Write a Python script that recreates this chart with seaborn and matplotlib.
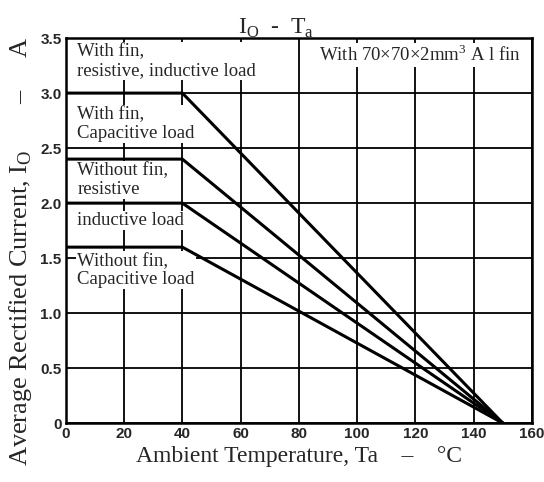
import pandas as pd
import seaborn as sns
import matplotlib.pyplot as plt

# derating curves: flat up to 40 C, then down to zero at 150 C
temps = [0, 40, 150]
fin_resistive = [3.0, 3.0, 0.0]
fin_capacitive = [2.4, 2.4, 0.0]
nofin_resistive = [2.0, 2.0, 0.0]
nofin_capacitive = [1.6, 1.6, 0.0]

series = {
    "fin_res": fin_resistive,
    "fin_cap": fin_capacitive,
    "nofin_res": nofin_resistive,
    "nofin_cap": nofin_capacitive,
}

rows = []
for name, vals in series.items():
    for t, v in zip(temps, vals):
        rows.append({"Ta": t, "Io": v, "curve": name})
df = pd.DataFrame(rows)

sns.set_theme(style="white")
plt.rcParams["font.family"] = ["Liberation Serif", "DejaVu Serif"]
plt.rcParams["mathtext.fontset"] = "custom"
plt.rcParams["mathtext.rm"] = "Liberation Serif"

fig = plt.figure(figsize=(5.44, 4.82), dpi=100)
ax = fig.add_axes([0.121, 0.122, 0.857, 0.799])

sns.lineplot(data=df, x="Ta", y="Io", units="curve", estimator=None,
             color="black", lw=2.2, legend=False, ax=ax, zorder=3)

ax.set_xlim(0, 160)
ax.set_ylim(0, 3.5)
ax.set_xticks(range(0, 161, 20))
ax.set_yticks([0, 0.5, 1.0, 1.5, 2.0, 2.5, 3.0, 3.5])
ax.set_yticklabels(["0", "0.5", "1.0", "1.5", "2.0", "2.5", "3.0", "3.5"])
for lab in ax.get_xticklabels() + ax.get_yticklabels():
    lab.set_fontfamily("Liberation Sans")
    lab.set_fontweight("bold")
    lab.set_fontsize(11)
ax.tick_params(length=0, pad=3)

ax.grid(True, color="black", lw=1.3)
ax.set_axisbelow(True)
for s in ax.spines.values():
    s.set_color("black")
    s.set_linewidth(1.8)

# white boxes hide the grid behind the labels, curves stay on top
box = dict(facecolor="white", edgecolor="none", pad=1.0)
txt = dict(fontsize=13.5, va="top", ha="left", zorder=2, bbox=box, linespacing=1.1)
ax.text(4, 3.45, "With fin,\nresistive, inductive load", **txt)
ax.text(4, 2.88, "With fin,\nCapacitive load", **txt)
ax.text(4, 2.37, "Without fin,\nresistive", **txt)
ax.text(4, 1.92, "inductive load", **txt)
ax.text(4, 1.55, "Without fin,\nCapacitive load", **txt)
ax.text(87, 3.44, "With 70×70×2mm$^3$ A l fin", **txt)

ax.set_title(r"I$_\mathrm{O}$  -  T$_\mathrm{a}$", fontsize=17, pad=3, x=0.45)
ax.set_xlabel("Ambient Temperature, Ta    –    °C", fontsize=17, labelpad=3)
ax.set_ylabel(r"Average Rectified Current, I$_\mathrm{O}$       –     A", fontsize=19)
ax.yaxis.set_label_coords(-0.068, 0.445)

plt.savefig("out.png", dpi=100)
